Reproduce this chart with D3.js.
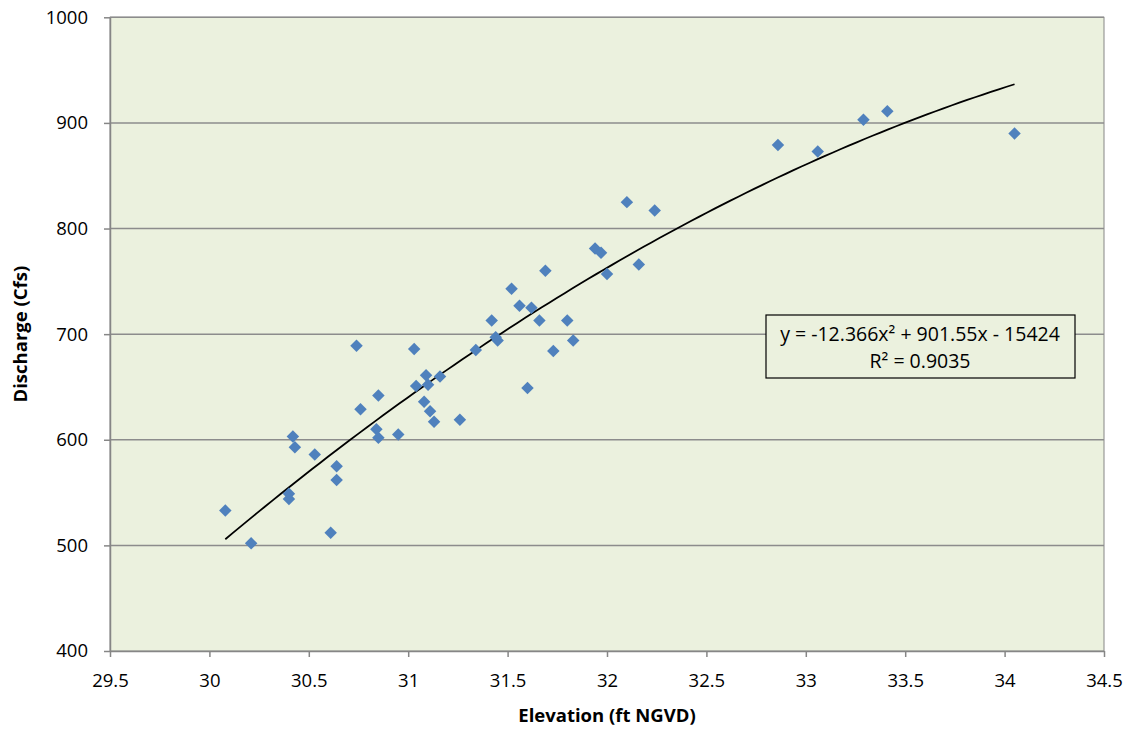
<!DOCTYPE html>
<html>
<head>
<meta charset="utf-8">
<script src="https://cdn.jsdelivr.net/npm/d3@7"></script>
<style>
body { margin: 0; background: #fff; }
text { font-family: "Open Sans", "Liberation Sans", sans-serif; }
</style>
</head>
<body>
<script>
var width = 1128;
var height = 729;

// elevation (ft NGVD) and discharge (cfs)
var elevation = [30.08, 30.21, 30.40, 30.40, 30.42, 30.43, 30.53, 30.61, 30.64, 30.64,
    30.74, 30.76, 30.84, 30.85, 30.85, 30.95, 31.03, 31.04, 31.08, 31.09,
    31.10, 31.11, 31.13, 31.16, 31.26, 31.34, 31.42, 31.44, 31.45, 31.52,
    31.56, 31.60, 31.62, 31.66, 31.69, 31.73, 31.80, 31.83, 31.94, 31.97,
    32.00, 32.10, 32.16, 32.24, 32.86, 33.06, 33.29, 33.41, 34.05];
var discharge = [533, 502, 549, 544, 603, 593, 586, 512, 562, 575,
    689, 629, 610, 602, 642, 605, 686, 651, 636, 661,
    652, 627, 617, 660, 619, 685, 713, 697, 694, 743,
    727, 649, 725, 713, 760, 684, 713, 694, 781, 777,
    757, 825, 766, 817, 879, 873, 903, 911, 890];

// trendline coefficients (a x^2 + b x + c)
var coef = [-12.366, 901.55, -15424];
var eqLines = ["y = -12.366x\u00B2 + 901.55x - 15424", "R\u00B2 = 0.9035"];

var xTicks = [29.5, 30, 30.5, 31, 31.5, 32, 32.5, 33, 33.5, 34, 34.5];
var yTicks = [400, 500, 600, 700, 800, 900, 1000];

var pL = 110, pR = 1104, pT = 17.3, pB = 651;

var svg = d3.select("body").append("svg")
    .attr("width", width)
    .attr("height", height);

var x = d3.scaleLinear().domain([29.5, 34.5]).range([pL, pR]);
var y = d3.scaleLinear().domain([400, 1000]).range([pB, pT]);

// plot area
svg.append("rect")
    .attr("x", pL).attr("y", pT)
    .attr("width", pR - pL).attr("height", pB - pT)
    .attr("fill", "#EBF1DE")
    .attr("stroke", "#868686")
    .attr("stroke-width", 1);

// gridlines
svg.append("g").selectAll("line")
    .data(yTicks.slice(1))
    .enter().append("line")
    .attr("x1", pL).attr("x2", pR)
    .attr("y1", function(d) { return y(d); })
    .attr("y2", function(d) { return y(d); })
    .attr("stroke", "#8C8C8C")
    .attr("stroke-width", 1.5);

// axes
var xAxis = svg.append("g")
    .attr("transform", "translate(0," + pB + ")")
    .call(d3.axisBottom(x).tickValues(xTicks).tickSize(6).tickSizeOuter(0).tickPadding(17)
        .tickFormat(function(d) { return d; }));
var yAxis = svg.append("g")
    .attr("transform", "translate(" + pL + ",0)")
    .call(d3.axisLeft(y).tickValues(yTicks).tickSize(6).tickSizeOuter(0).tickPadding(16)
        .tickFormat(function(d) { return d; }));

[xAxis, yAxis].forEach(function(a) {
    a.select(".domain").attr("stroke", "#868686").attr("stroke-width", 1.5);
    a.selectAll(".tick line").attr("stroke", "#868686").attr("stroke-width", 1.5);
    a.selectAll(".tick text")
        .attr("fill", "#000")
        .style("font-size", "18.5px")
        .style("font-family", "'Open Sans', sans-serif");
});

// axis titles
svg.append("text")
    .attr("x", (pL + pR) / 2)
    .attr("y", 722)
    .attr("text-anchor", "middle")
    .style("font-size", "18.5px")
    .style("font-weight", "bold")
    .text("Elevation (ft NGVD)");

svg.append("text")
    .attr("transform", "translate(27," + (pT + pB) / 2 + ") rotate(-90)")
    .attr("text-anchor", "middle")
    .style("font-size", "18.5px")
    .style("font-weight", "bold")
    .text("Discharge (Cfs)");

// trendline
var xmin = d3.min(elevation), xmax = d3.max(elevation);
var trend = d3.range(0, 101).map(function(i) {
    var xv = xmin + (xmax - xmin) * i / 100;
    return [xv, coef[0] * xv * xv + coef[1] * xv + coef[2]];
});
svg.append("path")
    .datum(trend)
    .attr("fill", "none")
    .attr("stroke", "#000")
    .attr("stroke-width", 1.8)
    .attr("d", d3.line()
        .x(function(d) { return x(d[0]); })
        .y(function(d) { return y(d[1]); }));

// points
var diamond = d3.symbol().type(d3.symbolSquare).size(78);
svg.append("g").selectAll("path")
    .data(elevation)
    .enter().append("path")
    .attr("d", diamond)
    .attr("transform", function(d, i) {
        return "translate(" + x(d) + "," + y(discharge[i]) + ") rotate(45)";
    })
    .attr("fill", "#4F81BD");

// equation box
var box = svg.append("g");
box.append("rect")
    .attr("x", 766).attr("y", 315)
    .attr("width", 309).attr("height", 63)
    .attr("fill", "#EBF1DE")
    .attr("stroke", "#000")
    .attr("stroke-width", 1.2);
box.selectAll("text")
    .data(eqLines)
    .enter().append("text")
    .attr("x", 920)
    .attr("y", function(d, i) { return 341 + i * 27; })
    .attr("text-anchor", "middle")
    .style("font-size", "19.5px")
    .text(function(d) { return d; });
</script>
</body>
</html>
